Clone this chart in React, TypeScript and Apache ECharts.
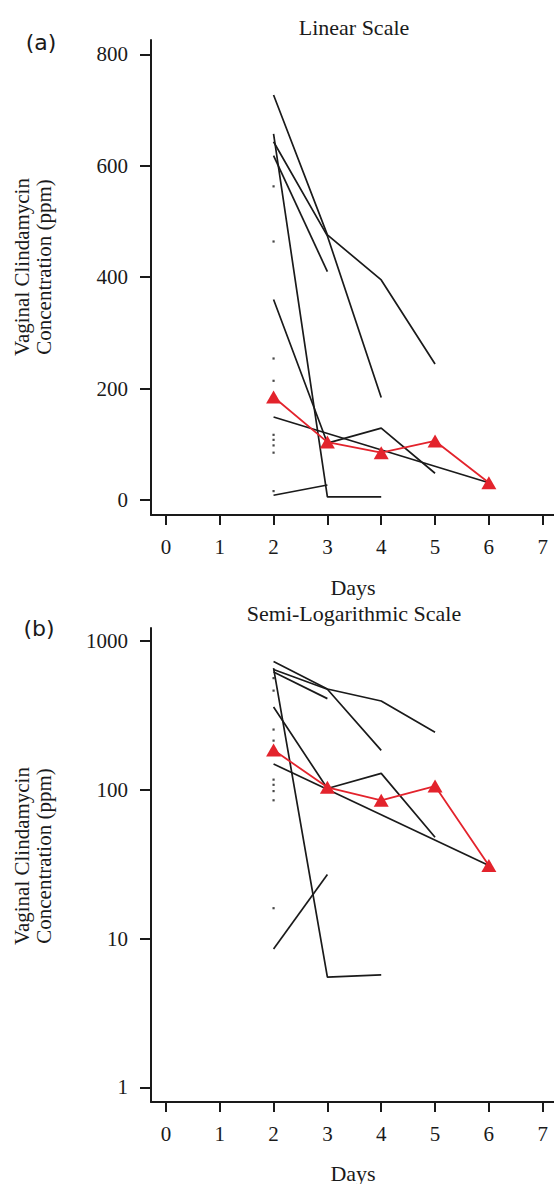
import React, { useEffect, useRef } from "react";
import * as echarts from "echarts";

// ---- data ----
const days = [2, 3, 4, 5, 6];
const xTicks = [0, 1, 2, 3, 4, 5, 6, 7];
const linearTicks = [0, 200, 400, 600, 800];
const logTicks = [1, 10, 100, 1000];

const subject1 = [727, 476, 395, 244, null];
const subject2 = [643, 474, 184, null, null];
const subject3 = [618, 410, null, null, null];
const subject4 = [657, 5.5, 5.7, null, null];
const subject5 = [360, 102, 129, 48, null];
const subject6 = [149, null, null, null, 31];
const subject7 = [8.5, 27, null, null, null];
const meanConc = [185, 104, 85, 106, 31];
const day2Singles = [563, 464, 254, 214, 117, 108, 98, 85, 16];

const subjects = [subject1, subject2, subject3, subject4, subject5, subject6, subject7];

const SERIF = "Liberation Serif";
const INK = "#1a1a1a";
const RED = "#e3232c";

function pairs(vals: (number | null)[]) {
  const out: number[][] = [];
  vals.forEach((v, i) => {
    if (v !== null && v !== undefined) out.push([days[i], v]);
  });
  return out;
}

const plain = (v: number) => String(Math.round(v * 1000) / 1000);

function xAxisCfg(gridIndex: number) {
  return {
    type: "value",
    gridIndex,
    min: -0.277,
    max: 7.21,
    axisLine: { show: true, onZero: false, lineStyle: { color: INK, width: 2 } },
    axisTick: { show: true, length: 10, lineStyle: { color: INK, width: 2 }, customValues: xTicks },
    axisLabel: { show: true, fontFamily: SERIF, fontSize: 21, color: INK, margin: 21, customValues: xTicks, formatter: plain },
    splitLine: { show: false },
  };
}

export default function App() {
  const ref = useRef<HTMLDivElement>(null);
  useEffect(() => {
    if (!ref.current) return;
    const chart = echarts.init(ref.current, null, { renderer: "svg" });
    const series: any[] = [];
    [0, 1].forEach((g) => {
      subjects.forEach((s) => {
        series.push({
          type: "line",
          xAxisIndex: g,
          yAxisIndex: g,
          data: pairs(s),
          symbol: "none",
          showSymbol: false,
          lineStyle: { color: INK, width: 1.7 },
          z: 2,
        });
      });
      series.push({
        type: "scatter",
        xAxisIndex: g,
        yAxisIndex: g,
        data: day2Singles.map((v) => [days[0], v]),
        symbol: "rect",
        symbolSize: 2.2,
        itemStyle: { color: INK },
        z: 2,
      });
      series.push({
        type: "line",
        xAxisIndex: g,
        yAxisIndex: g,
        data: pairs(meanConc),
        symbol: "triangle",
        symbolSize: [15, 13],
        showSymbol: true,
        itemStyle: { color: RED },
        lineStyle: { color: RED, width: 1.8 },
        z: 5,
      });
    });

    const option: any = {
      animation: false,
      backgroundColor: "#ffffff",
      grid: [
        { left: 151, top: 40, width: 403, height: 475 },
        { left: 151, top: 628, width: 403, height: 474 },
      ],
      xAxis: [xAxisCfg(0), xAxisCfg(1)],
      yAxis: [
        {
          type: "value",
          gridIndex: 0,
          min: -26.9,
          max: 825.7,
          axisLine: { show: true, onZero: false, lineStyle: { color: INK, width: 2 } },
          axisTick: { show: true, length: 11, lineStyle: { color: INK, width: 2 }, customValues: linearTicks },
          axisLabel: { show: true, fontFamily: SERIF, fontSize: 21, color: INK, margin: 23, customValues: linearTicks, formatter: plain },
          splitLine: { show: false },
        },
        {
          type: "log",
          logBase: 10,
          gridIndex: 1,
          min: 0.797,
          max: 1223,
          axisLine: { show: true, onZero: false, lineStyle: { color: INK, width: 2 } },
          axisTick: { show: true, length: 11, lineStyle: { color: INK, width: 2 }, customValues: logTicks },
          axisLabel: { show: true, fontFamily: SERIF, fontSize: 21, color: INK, margin: 23, customValues: logTicks, formatter: plain },
          splitLine: { show: false },
          minorTick: { show: false },
        },
      ],
      graphic: [
        { type: "text", x: 354, y: 27, style: { text: "Linear Scale", font: `22px "${SERIF}"`, fill: INK, align: "center", verticalAlign: "middle" } },
        { type: "text", x: 354, y: 613, style: { text: "Semi-Logarithmic Scale", font: `22px "${SERIF}"`, fill: INK, align: "center", verticalAlign: "middle" } },
        { type: "text", x: 353, y: 587, style: { text: "Days", font: `22px "${SERIF}"`, fill: INK, align: "center", verticalAlign: "middle" } },
        { type: "text", x: 353, y: 1173, style: { text: "Days", font: `22px "${SERIF}"`, fill: INK, align: "center", verticalAlign: "middle" } },
        { type: "text", x: 41, y: 42, style: { text: "(a)", font: `22px "DejaVu Sans"`, fill: INK, align: "center", verticalAlign: "middle" } },
        { type: "text", x: 39, y: 628, style: { text: "(b)", font: `22px "DejaVu Sans"`, fill: INK, align: "center", verticalAlign: "middle" } },
        {
          type: "text", x: 32.5, y: 267, rotation: Math.PI / 2,
          style: { text: "Vaginal Clindamycin\nConcentration (ppm)", font: `21px "${SERIF}"`, lineHeight: 22, fill: INK, align: "center", verticalAlign: "middle" },
        },
        {
          type: "text", x: 32.5, y: 856, rotation: Math.PI / 2,
          style: { text: "Vaginal Clindamycin\nConcentration (ppm)", font: `21px "${SERIF}"`, lineHeight: 22, fill: INK, align: "center", verticalAlign: "middle" },
        },
      ],
      series,
    };
    chart.setOption(option);
    return () => chart.dispose();
  }, []);
  return (
    <div
      ref={ref}
      style={{ position: "absolute", left: 0, top: 0, width: 554, height: 1184, background: "#fff" }}
    />
  );
}
